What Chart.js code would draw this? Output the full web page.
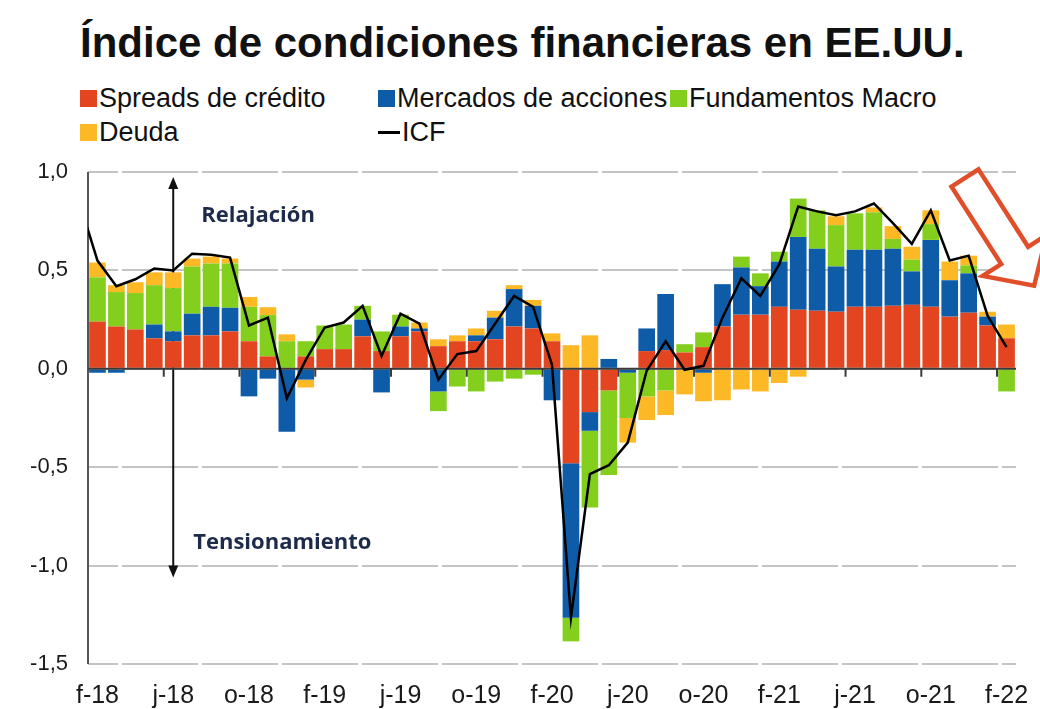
<!DOCTYPE html>
<html>
<head>
<meta charset="utf-8">
<script src="https://cdn.jsdelivr.net/npm/chart.js@4.4.0/dist/chart.umd.min.js"></script>
<style>
  body { margin: 0; background: #fff; }
  #wrap { position: relative; width: 1040px; height: 709px; font-family: 'Liberation Sans', Arial, sans-serif; color: #111; }
  #title { position: absolute; left: 80px; top: 22px; font-size: 42px; font-weight: bold; line-height: 1; white-space: nowrap; }
  .leg { position: absolute; font-size: 27px; line-height: 1; white-space: nowrap; display: flex; align-items: center; }
  .sw { width: 17px; height: 17px; margin-right: 2px; }
  .ln { width: 22px; height: 3px; background: #000; margin-right: 2px; }
  canvas { position: absolute; left: 0; top: 0; }
</style>
</head>
<body>
<div id="wrap">
  <div id="title">Índice de condiciones financieras en EE.UU.</div>
  <div id="legend"></div>
  <canvas id="chart" width="1040" height="709"></canvas>
</div>
<script>
// monthly, f-18 .. f-22 (49 months); x index 1..49
const tickLabels = ['f-18', 'j-18', 'o-18', 'f-19', 'j-19', 'o-19', 'f-20', 'j-20', 'o-20', 'f-21', 'j-21', 'o-21', 'f-22'];

const spreads = [0.24, 0.215, 0.20, 0.155, 0.14, 0.17, 0.17, 0.19, 0.14, 0.063, 0, 0.063,
  0.10, 0.10, 0.165, 0.09, 0.165, 0.19, 0.115, 0.14, 0.14, 0.15, 0.215, 0.205,
  0.14, -0.48, -0.22, -0.11, 0, 0.09, 0.095, 0.083, 0.11, 0.215, 0.275, 0.275,
  0.315, 0.30, 0.295, 0.29, 0.315, 0.315, 0.32, 0.325, 0.315, 0.265, 0.285, 0.22,
  0.155];
const acciones = [-0.02, -0.02, 0, 0.07, 0.05, 0.11, 0.145, 0.12, -0.14, -0.05, -0.32, -0.055,
  0, 0, 0.085, -0.12, 0.05, 0.015, -0.115, 0, 0.03, 0.11, 0.19, 0.115,
  -0.16, -0.785, -0.095, 0.05, -0.02, 0.115, 0.285, 0, -0.02, 0.215, 0.24, 0.145,
  0.23, 0.37, 0.315, 0.23, 0.29, 0.29, 0.29, 0.17, 0.34, 0.185, 0.20, 0.045,
  0];
const macro = [0.225, 0.175, 0.185, 0.20, 0.22, 0.24, 0.22, 0.225, 0.175, 0.21, 0.14, 0.077,
  0.12, 0.125, 0.07, 0.10, 0.06, 0, -0.10, -0.09, -0.115, -0.065, -0.05, -0.03,
  0, -0.12, -0.39, -0.43, -0.23, -0.14, -0.11, 0.042, 0.075, 0, 0.055, 0.065,
  0.05, 0.195, 0.195, 0.21, 0.185, 0.19, 0.05, 0.06, 0.08, 0, 0.04, 0,
  -0.115];
const deuda = [0.075, 0.035, 0.055, 0.065, 0.08, 0.04, 0.035, 0.025, 0.05, 0.04, 0.035, -0.04,
  0, 0, 0, 0, 0, 0.03, 0.035, 0.03, 0.035, 0.035, 0.02, 0.03,
  0.04, 0.12, 0.17, 0, -0.125, -0.12, -0.125, -0.13, -0.145, -0.16, -0.105, -0.115,
  -0.072, -0.04, 0, 0.045, 0, 0.025, 0.065, 0.065, 0.07, 0.095, 0.05, 0.025,
  0.07];
const icfJan18 = 0.86; // e-18, just left of the plot
const icf = [0.55, 0.42, 0.455, 0.51, 0.50, 0.585, 0.58, 0.565, 0.22, 0.26, -0.15, 0.045,
  0.21, 0.235, 0.32, 0.065, 0.28, 0.23, -0.055, 0.075, 0.09, 0.23, 0.37, 0.315,
  0.02, -1.265, -0.535, -0.49, -0.375, -0.01, 0.14, -0.005, 0.015, 0.26, 0.46, 0.37,
  0.53, 0.825, 0.80, 0.78, 0.80, 0.84, 0.74, 0.635, 0.805, 0.55, 0.575, 0.27,
  0.11];

const xy = arr => arr.map((v, i) => ({ x: i + 1, y: v }));

Chart.defaults.font.family = "'Liberation Sans', Arial, sans-serif";
Chart.defaults.color = '#1a1a1a';

function drawArrow(ctx, x, y0, y1) {
  const dir = y1 < y0 ? 1 : -1;
  ctx.beginPath();
  ctx.moveTo(x, y0);
  ctx.lineTo(x, y1 + dir * 10);
  ctx.stroke();
  ctx.beginPath();
  ctx.moveTo(x, y1);
  ctx.lineTo(x - 5, y1 + dir * 12);
  ctx.lineTo(x + 5, y1 + dir * 12);
  ctx.closePath();
  ctx.fill();
}

const decor = {
  id: 'decor',
  beforeDatasetsDraw(chart) {
    const { ctx, chartArea: a, scales: { x, y } } = chart;
    const ax = x.getPixelForValue(5);
    const y0 = y.getPixelForValue(0);
    ctx.save();
    // left axis line
    ctx.strokeStyle = '#555';
    ctx.lineWidth = 2;
    ctx.beginPath();
    ctx.moveTo(a.left, a.top);
    ctx.lineTo(a.left, a.bottom);
    ctx.stroke();
    ctx.strokeStyle = '#111';
    ctx.fillStyle = '#111';
    drawArrow(ctx, ax, y0, y.getPixelForValue(0.975));
    drawArrow(ctx, ax, y0, y.getPixelForValue(-1.06));
    ctx.font = 'bold 22px "Open Sans"';
    ctx.fillStyle = '#1d2b4a';
    ctx.textBaseline = 'middle';
    ctx.fillText('Relajación', ax + 28, y.getPixelForValue(0.78));
    ctx.fillText('Tensionamiento', ax + 20, y.getPixelForValue(-0.885));
    ctx.restore();
  },
  beforeDatasetDraw(chart, args) {
    if (args.index !== 4) return;
    // zero axis with its tick marks, drawn over the bars but under the ICF line
    const { ctx, chartArea: a, scales: { x, y } } = chart;
    const y0 = y.getPixelForValue(0);
    ctx.save();
    ctx.strokeStyle = '#3a3a3a';
    ctx.lineWidth = 2;
    ctx.beginPath();
    ctx.moveTo(a.left, y0);
    ctx.lineTo(a.right, y0);
    for (let v = 4.5; v < 49.5; v += 4) {
      const px = x.getPixelForValue(v);
      ctx.moveTo(px, y0);
      ctx.lineTo(px, y0 + 8);
    }
    ctx.stroke();
    ctx.restore();
  },
  afterDraw(chart) {
    // hollow red arrow, top right
    const { ctx, chartArea: a } = chart;
    ctx.save();
    ctx.translate(a.right - 51, a.top + 6);
    ctx.rotate(Math.atan2(106, 68));
    ctx.beginPath();
    ctx.moveTo(0, -16);
    ctx.lineTo(92, -16);
    ctx.lineTo(92, -38);
    ctx.lineTo(128, 0);
    ctx.lineTo(92, 38);
    ctx.lineTo(92, 16);
    ctx.lineTo(0, 16);
    ctx.closePath();
    ctx.fillStyle = '#fff';
    ctx.fill();
    ctx.strokeStyle = '#e04e2a';
    ctx.lineWidth = 4.5;
    ctx.lineJoin = 'miter';
    ctx.stroke();
    ctx.restore();
  }
};

const barOpts = { stack: 'a', order: 1, borderWidth: 0, barPercentage: 0.88, categoryPercentage: 1.0 };

const chart = new Chart(document.getElementById('chart'), {
  type: 'bar',
  data: {
    datasets: [
      { label: 'Spreads de crédito', data: xy(spreads), backgroundColor: '#e2451f', ...barOpts },
      { label: 'Mercados de acciones', data: xy(acciones), backgroundColor: '#0e5ba8', ...barOpts },
      { label: 'Fundamentos Macro', data: xy(macro), backgroundColor: '#84cf1e', ...barOpts },
      { label: 'Deuda', data: xy(deuda), backgroundColor: '#fdb826', ...barOpts },
      {
        type: 'line', label: 'ICF', order: 0,
        data: [{ x: 0, y: icfJan18 }, ...xy(icf)],
        borderColor: '#000', borderWidth: 2.5, pointRadius: 0, tension: 0, fill: false
      }
    ]
  },
  options: {
    responsive: false,
    animation: false,
    devicePixelRatio: 1,
    layout: { padding: { top: 172, right: 24, bottom: 0, left: 0 } },
    plugins: { legend: { display: false }, tooltip: { enabled: false } },
    scales: {
      x: {
        type: 'linear',
        min: 0.5,
        max: 49.5,
        offset: false,
        grid: { display: false, offset: false },
        border: { display: false },
        afterBuildTicks: s => { s.ticks = tickLabels.map((_, k) => ({ value: 1 + 4 * k })); },
        afterFit: s => { s.height = 45; },
        ticks: {
          callback: (v, i) => tickLabels[i],
          font: { size: 25 },
          padding: 9,
          maxRotation: 0,
          autoSkip: false
        }
      },
      y: {
        stacked: true,
        min: -1.5,
        max: 1.0,
        afterFit: s => { s.width = 88; },
        grid: { color: '#c4c4c4', lineWidth: 2, drawTicks: false },
        border: { display: false, dash: [76, 4], dashOffset: 46 },
        ticks: {
          stepSize: 0.5,
          padding: 20,
          font: { size: 22 },
          callback: v => v.toFixed(1).replace('.', ',')
        }
      }
    }
  },
  plugins: [decor]
});

// legend laid out as in the source: 3 items on the first row, 2 on the second
const legendLeft = [80, 378, 670, 80, 378];
const legendTop = [85, 85, 85, 119, 119];
const legendEl = document.getElementById('legend');
chart.data.datasets.forEach((ds, i) => {
  const item = document.createElement('div');
  item.className = 'leg';
  item.style.left = legendLeft[i] + 'px';
  item.style.top = legendTop[i] + 'px';
  const mark = document.createElement('span');
  if (ds.type === 'line') {
    mark.className = 'ln';
  } else {
    mark.className = 'sw';
    mark.style.background = ds.backgroundColor;
  }
  item.appendChild(mark);
  item.appendChild(document.createTextNode(ds.label));
  legendEl.appendChild(item);
});
</script>
</body>
</html>
